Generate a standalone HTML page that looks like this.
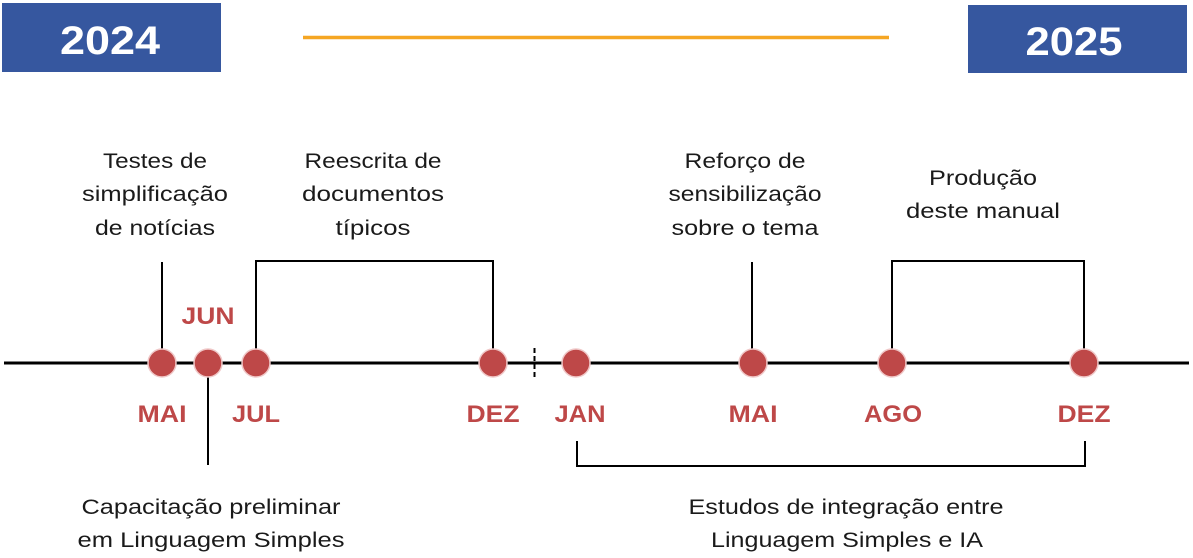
<!DOCTYPE html>
<html><head><meta charset="utf-8"><style>
html,body{margin:0;padding:0;background:#fff;}
svg{display:block;}
.t{font-family:"Liberation Sans",sans-serif;font-size:21px;fill:#1a1a1a;text-anchor:middle;}
.m{font-family:"Liberation Sans",sans-serif;font-size:24px;font-weight:bold;fill:#be4848;text-anchor:middle;}
.y{font-family:"Liberation Sans",sans-serif;font-size:40px;font-weight:bold;fill:#fff;text-anchor:middle;}
</style></head><body>
<svg width="1193" height="558" viewBox="0 0 1193 558">
<rect x="2" y="3" width="219" height="69" fill="#36579f"/>
<text class="y" x="110" y="54" textLength="100" lengthAdjust="spacingAndGlyphs">2024</text>
<rect x="968" y="5" width="219" height="68" fill="#36579f"/>
<text class="y" x="1074" y="55" textLength="97" lengthAdjust="spacingAndGlyphs">2025</text>
<line x1="303" y1="37.5" x2="889" y2="37.5" stroke="#f5a623" stroke-width="3.5"/>
<line x1="4" y1="363" x2="1189" y2="363" stroke="#000" stroke-width="3"/>
<line x1="534.5" y1="348" x2="534.5" y2="378" stroke="#000" stroke-width="2" stroke-dasharray="5,3"/>
<g stroke="#000" stroke-width="2" fill="none">
<line x1="162" y1="262" x2="162" y2="350"/>
<line x1="208" y1="376" x2="208" y2="465"/>
<polyline points="256,350 256,261 493,261 493,350"/>
<line x1="752" y1="262" x2="752" y2="350"/>
<polyline points="892,350 892,261 1084,261 1084,350"/>
<polyline points="577,441 577,466 1085,466 1085,441"/>
</g>
<g fill="#be4848" stroke="#f0c8c8" stroke-width="1.5">
<circle cx="162" cy="363" r="14"/><circle cx="208" cy="363" r="14"/><circle cx="256" cy="363" r="14"/>
<circle cx="493" cy="363" r="14"/><circle cx="576" cy="363" r="14"/><circle cx="753" cy="363" r="14"/>
<circle cx="892" cy="363" r="14"/><circle cx="1084" cy="363" r="14"/>
</g>
<text class="m" x="208" y="324" textLength="53" lengthAdjust="spacingAndGlyphs">JUN</text>
<text class="m" x="162" y="422" textLength="49" lengthAdjust="spacingAndGlyphs">MAI</text>
<text class="m" x="256" y="422" textLength="48" lengthAdjust="spacingAndGlyphs">JUL</text>
<text class="m" x="493" y="422" textLength="53" lengthAdjust="spacingAndGlyphs">DEZ</text>
<text class="m" x="580" y="422" textLength="51" lengthAdjust="spacingAndGlyphs">JAN</text>
<text class="m" x="753" y="422" textLength="49" lengthAdjust="spacingAndGlyphs">MAI</text>
<text class="m" x="893" y="422" textLength="58" lengthAdjust="spacingAndGlyphs">AGO</text>
<text class="m" x="1084" y="422" textLength="53" lengthAdjust="spacingAndGlyphs">DEZ</text>
<text class="t" x="155" y="168" textLength="104" lengthAdjust="spacingAndGlyphs">Testes de</text>
<text class="t" x="155" y="201" textLength="146" lengthAdjust="spacingAndGlyphs">simplificação</text>
<text class="t" x="155" y="235" textLength="120" lengthAdjust="spacingAndGlyphs">de notícias</text>
<text class="t" x="373" y="168" textLength="137" lengthAdjust="spacingAndGlyphs">Reescrita de</text>
<text class="t" x="373" y="201" textLength="142" lengthAdjust="spacingAndGlyphs">documentos</text>
<text class="t" x="373" y="235" textLength="75" lengthAdjust="spacingAndGlyphs">típicos</text>
<text class="t" x="745" y="168" textLength="121" lengthAdjust="spacingAndGlyphs">Reforço de</text>
<text class="t" x="745" y="201" textLength="153" lengthAdjust="spacingAndGlyphs">sensibilização</text>
<text class="t" x="745" y="235" textLength="147" lengthAdjust="spacingAndGlyphs">sobre o tema</text>
<text class="t" x="983" y="185" textLength="108" lengthAdjust="spacingAndGlyphs">Produção</text>
<text class="t" x="983" y="218" textLength="154" lengthAdjust="spacingAndGlyphs">deste manual</text>
<text class="t" x="211" y="514" textLength="259" lengthAdjust="spacingAndGlyphs">Capacitação preliminar</text>
<text class="t" x="211" y="547" textLength="267" lengthAdjust="spacingAndGlyphs">em Linguagem Simples</text>
<text class="t" x="846" y="514" textLength="315" lengthAdjust="spacingAndGlyphs">Estudos de integração entre</text>
<text class="t" x="847" y="547" textLength="272" lengthAdjust="spacingAndGlyphs">Linguagem Simples e IA</text>
</svg>
</body></html>
